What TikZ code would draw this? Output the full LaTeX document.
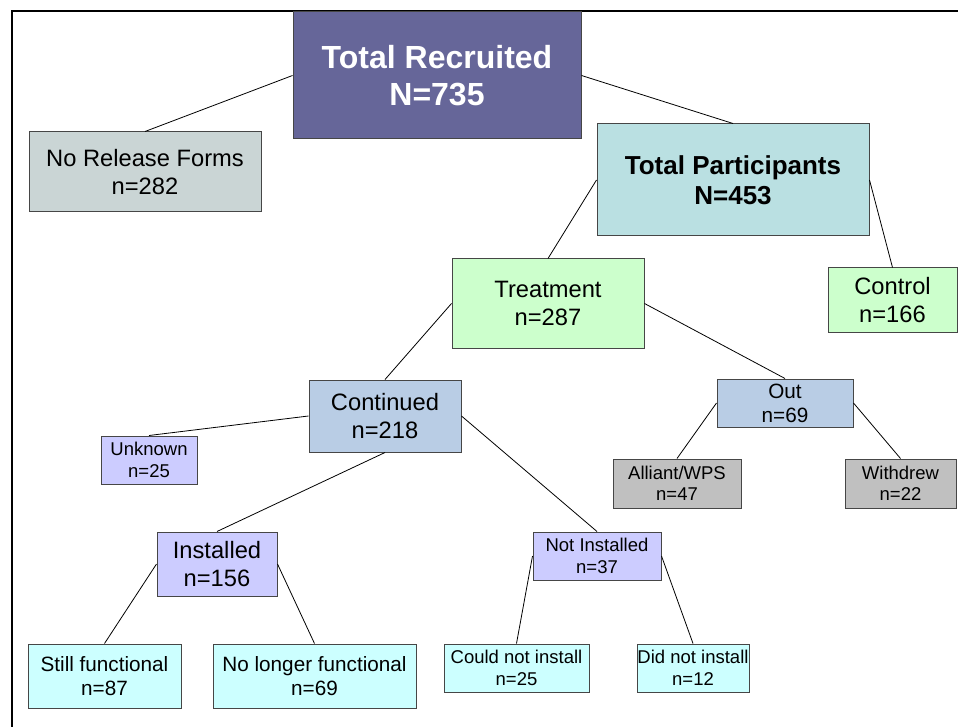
\documentclass[tikz,border=0pt]{standalone}
\usepackage{fontspec}
\setmainfont{Liberation Sans}

\definecolor{boxline}{RGB}{70,70,70}
\definecolor{recruitfill}{RGB}{102,102,153}
\definecolor{releasefill}{RGB}{202,213,213}
\definecolor{partfill}{RGB}{186,224,226}
\definecolor{greenfill}{RGB}{204,255,204}
\definecolor{steelfill}{RGB}{185,205,229}
\definecolor{lilacfill}{RGB}{204,204,255}
\definecolor{grayfill}{RGB}{192,192,192}
\definecolor{cyanfill}{RGB}{204,255,255}

\begin{document}
\begin{tikzpicture}[x = 1pt, y = -1pt,
        box/.style = {draw = boxline, line width = 1pt, align = center, inner sep = 0pt},
        link/.style = {draw = black, line width = 0.8pt},
        fhuge/.style = {font = \fontsize{32}{37}\selectfont\bfseries},
        fbig/.style = {font = \fontsize{26}{30}\selectfont\bfseries},
        fmid/.style = {font = \fontsize{23.7}{27.5}\selectfont},
        fsmall/.style = {font = \fontsize{20.7}{24}\selectfont},
        ftiny/.style = {font = \fontsize{18.5}{21.5}\selectfont}]

        \useasboundingbox (0, 0) rectangle (958, 727);

        % Frame along the top and the left.
        \draw[line width = 2pt] (958, 11) to (12, 11) to (12, 727);

        % Top of the tree.
        \node[box, fhuge, fill = recruitfill, text = white, minimum width = 288, minimum height = 127] (recruited) at (437, 75.5) {Total Recruited\\N=735};
        \node[box, fmid, fill = releasefill, minimum width = 232, minimum height = 80] (norelease) at (145, 172) {No Release Forms\\n=282};
        \node[box, fbig, fill = partfill, minimum width = 272, minimum height = 112] (participants) at (733, 180) {Total Participants\\N=453};

        % Treatment and control groups.
        \node[box, fmid, fill = greenfill, minimum width = 192, minimum height = 89] (treatment) at (548, 303.5) {Treatment\\n=287};
        \node[box, fmid, fill = greenfill, minimum width = 129, minimum height = 64] (control) at (892.5, 300) {Control\\n=166};

        % Second level under treatment.
        \node[box, fmid, fill = steelfill, minimum width = 152, minimum height = 72] (continued) at (385, 416) {Continued\\n=218};
        \node[box, fsmall, fill = steelfill, minimum width = 136, minimum height = 48] (out) at (785, 403) {Out\\n=69};
        \node[box, ftiny, fill = lilacfill, minimum width = 96, minimum height = 48] (unknown) at (149, 460) {Unknown\\n=25};
        \node[box, ftiny, fill = grayfill, minimum width = 128, minimum height = 49] (alliant) at (677, 483.5) {Alliant/WPS\\n=47};
        \node[box, ftiny, fill = grayfill, minimum width = 111, minimum height = 49] (withdrew) at (900.5, 483.5) {Withdrew\\n=22};

        % Installation outcomes.
        \node[box, fmid, fill = lilacfill, minimum width = 120, minimum height = 64] (installed) at (217, 564) {Installed\\n=156};
        \node[box, ftiny, fill = lilacfill, minimum width = 128, minimum height = 48] (notinstalled) at (597, 556) {Not Installed\\n=37};
        \node[box, fsmall, fill = cyanfill, minimum width = 153, minimum height = 64] (still) at (104.5, 676) {Still functional\\n=87};
        \node[box, fsmall, fill = cyanfill, minimum width = 203, minimum height = 64] (nolonger) at (314.5, 676) {No longer functional\\n=69};
        \node[box, ftiny, fill = cyanfill, minimum width = 145, minimum height = 48] (couldnot) at (516.5, 668) {Could not install\\n=25};
        \node[box, ftiny, fill = cyanfill, minimum width = 112, minimum height = 48] (didnot) at (693, 668) {Did not install\\n=12};

        % Connecting lines.
        \draw[link] (recruited.west) to (norelease.north);
        \draw[link] (recruited.east) to (participants.north);
        \draw[link] (participants.west) to (treatment.north);
        \draw[link] (participants.east) to (control.north);
        \draw[link] (treatment.west) to (continued.north);
        \draw[link] (treatment.east) to (out.north);
        \draw[link] (continued.west) to (unknown.north);
        \draw[link] (continued.south) to (installed.north);
        \draw[link] (continued.east) to (notinstalled.north);
        \draw[link] (out.west) to (alliant.north);
        \draw[link] (out.east) to (withdrew.north);
        \draw[link] (installed.west) to (still.north);
        \draw[link] (installed.east) to (nolonger.north);
        \draw[link] (notinstalled.west) to (couldnot.north);
        \draw[link] (notinstalled.east) to (didnot.north);
    \end{tikzpicture}
\end{document}
